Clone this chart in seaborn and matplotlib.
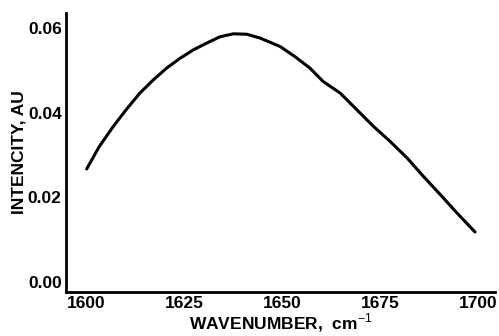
import matplotlib
matplotlib.use("Agg")
import matplotlib.pyplot as plt
import seaborn as sns
import pandas as pd

wavenumber = [1600.2, 1603.4, 1607.0, 1610.4, 1613.8, 1617.2, 1620.6, 1624.0, 1627.4,
              1630.8, 1634.2, 1637.6, 1641.0, 1644.4, 1649.5, 1653.3, 1657.1, 1660.5,
              1664.8, 1669.1, 1673.3, 1677.6, 1681.9, 1686.1, 1690.4, 1694.6, 1699.2]
intensity = [0.0267, 0.0320, 0.0368, 0.0409, 0.0447, 0.0478, 0.0506, 0.0529, 0.0549,
             0.0565, 0.0580, 0.0587, 0.0586, 0.0577, 0.0557, 0.0533, 0.0506, 0.0474,
             0.0447, 0.0407, 0.0368, 0.0332, 0.0293, 0.0249, 0.0206, 0.0163, 0.0118]
x_ticks = [1600, 1625, 1650, 1675, 1700]
y_ticks = [0.00, 0.02, 0.04, 0.06]

sns.set_style("white", {"text.color": "black", "axes.labelcolor": "black",
                        "xtick.color": "black", "ytick.color": "black",
                        "axes.edgecolor": "black"})
plt.rcParams['font.family'] = ['Liberation Sans', 'DejaVu Sans']
plt.rcParams['mathtext.fontset'] = 'custom'
plt.rcParams['mathtext.rm'] = 'Liberation Sans'
plt.rcParams['mathtext.bf'] = 'Liberation Sans:bold'

df = pd.DataFrame({"w": wavenumber, "i": intensity})

fig = plt.figure(figsize=(4.99, 3.36), dpi=100)
ax = fig.add_axes([0.132, 0.131, 0.860, 0.830])
sns.lineplot(data=df, x="w", y="i", ax=ax, color="black", linewidth=2.2)

ax.set_xlim(1594.9, 1704.3)
ax.set_ylim(-0.0024, 0.0636)
ax.set_xticks(x_ticks)
ax.set_xticklabels([str(t) for t in x_ticks])
ax.set_yticks(y_ticks)
ax.set_yticklabels([f"{t:.2f}" for t in y_ticks])
ax.tick_params(axis="both", length=0, pad=3, labelsize=12.5, labelcolor="black")
for lab in ax.get_xticklabels() + ax.get_yticklabels():
    lab.set_fontweight("bold")

for s in ["top", "right"]:
    ax.spines[s].set_visible(False)
for s in ["left", "bottom"]:
    ax.spines[s].set_linewidth(2)
    ax.spines[s].set_color("black")

ax.set_xlabel("WAVENUMBER,  cm$^{-1}$", fontsize=12.5, fontweight="bold", labelpad=0,
              color="black")
ax.set_ylabel("INTENCITY, AU", fontsize=12.5, fontweight="bold", labelpad=1,
              color="black")

fig.savefig("out.png", dpi=100)
